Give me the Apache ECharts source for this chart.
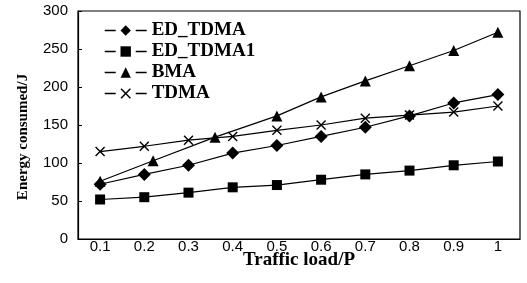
<!DOCTYPE html>
<html>
<head>
<meta charset="utf-8">
<script src="https://cdn.jsdelivr.net/npm/echarts@6/dist/echarts.min.js"></script>
<style>
  html, body { margin: 0; padding: 0; background: #fff; }
  #chart { width: 527px; height: 283px; }
</style>
</head>
<body>
<div id="chart"></div>
<script>
// tick labels on the x axis
const loadLabels = ['0.1', '0.2', '0.3', '0.4', '0.5', '0.6', '0.7', '0.8', '0.9', '1'];
// x positions of the points (traffic load)
const loads = [0.1, 0.2, 0.3, 0.4, 0.5, 0.6, 0.7, 0.8, 0.9, 1.0];
const bmaLoads = [0.1, 0.22, 0.36, 0.5, 0.6, 0.7, 0.8, 0.9, 1.0];

// energy consumed
const edTdma = [72, 85, 97, 113, 123, 135, 147, 162, 179, 190];
const edTdma1 = [52, 55, 61, 68, 71, 78, 85, 90, 97, 102];
const bma = [76, 103, 134, 162, 187, 208, 228, 248, 272];
const tdma = [115, 122, 130, 135, 143, 150, 159, 163, 167, 175];

const crossPath = 'path://M0,1L1,0L5,4L9,0L10,1L6,5L10,9L9,10L5,6L1,10L0,9L4,5Z';

function pairs(xs, ys) {
    return ys.map((y, i) => [xs[i], y]);
}

function lineSeries(name, xs, ys, symbol, size) {
    return {
        name: name,
        type: 'line',
        xAxisIndex: 1,
        data: pairs(xs, ys),
        symbol: symbol,
        symbolSize: size,
        showAllSymbol: true,
        lineStyle: { color: '#000', width: 1.2 },
        itemStyle: { color: '#000' },
        animation: false
    };
}

var myChart = echarts.init(document.getElementById('chart'));

myChart.setOption({
    backgroundColor: '#fff',
    grid: {
        left: 78, right: 7, top: 11, bottom: 44,
        show: true, borderColor: '#000', borderWidth: 1.2
    },
    legend: {
        orient: 'vertical',
        left: 99, top: 16,
        itemWidth: 42, itemHeight: 13, itemGap: 2,
        textStyle: { fontFamily: 'Liberation Serif', fontSize: 19, fontWeight: 'bold', color: '#000' },
        lineStyle: { type: [11, 20], width: 1.4, color: '#000' },
        data: ['ED_TDMA', 'ED_TDMA1', 'BMA', 'TDMA']
    },
    xAxis: [{
        type: 'category',
        data: loadLabels,
        boundaryGap: true,
        name: 'Traffic load/P',
        nameLocation: 'middle',
        nameGap: 12,
        nameMoveOverlap: false,
        nameTextStyle: { fontFamily: 'Liberation Serif', fontSize: 19, fontWeight: 'bold', color: '#000' },
        axisLine: { lineStyle: { color: '#000', width: 1.2 } },
        axisTick: { inside: true, length: 4, lineStyle: { color: '#000' } },
        axisLabel: { fontFamily: 'Liberation Sans', fontSize: 15, color: '#000', margin: 0 },
        splitLine: { show: false }
    }, {
        type: 'value',
        min: 0.05, max: 1.05,
        show: false
    }],
    yAxis: {
        type: 'value',
        min: 0, max: 300, interval: 50,
        name: 'Energy consumed/J',
        nameLocation: 'middle',
        nameGap: 47,
        nameMoveOverlap: false,
        nameTextStyle: {
            fontFamily: 'Liberation Serif', fontSize: 15, fontWeight: 'bold', color: '#000',
            padding: [0, 24, 0, 0]
        },
        axisLine: { show: true, lineStyle: { color: '#000', width: 1.2 } },
        axisTick: { show: true, inside: true, length: 4, lineStyle: { color: '#000' } },
        axisLabel: { fontFamily: 'Liberation Sans', fontSize: 15, color: '#000', margin: 10 },
        splitLine: { show: false }
    },
    series: [
        lineSeries('ED_TDMA', loads, edTdma, 'diamond', 13),
        lineSeries('ED_TDMA1', loads, edTdma1, 'rect', 10),
        lineSeries('BMA', bmaLoads, bma, 'triangle', 11),
        lineSeries('TDMA', loads, tdma, crossPath, 10)
    ]
});
</script>
</body>
</html>
